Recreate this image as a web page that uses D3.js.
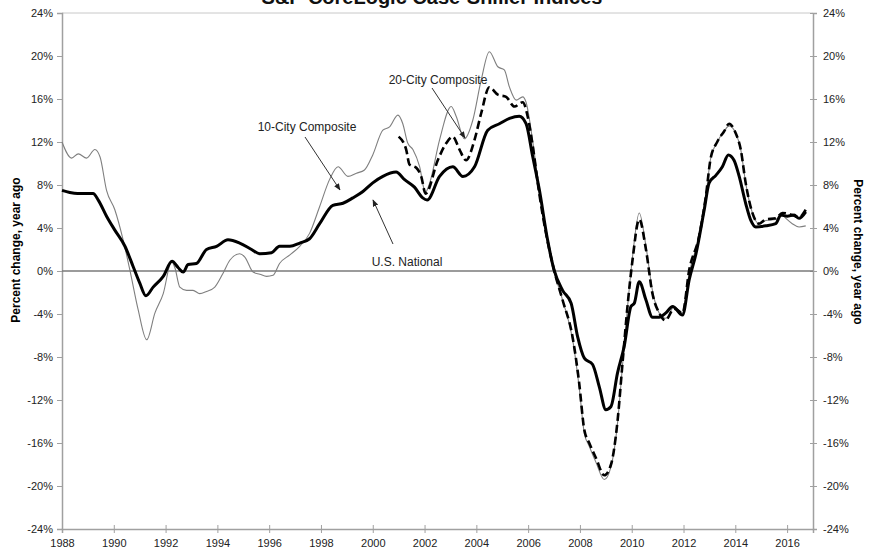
<!DOCTYPE html>
<html>
<head>
<meta charset="utf-8">
<script src="https://cdn.jsdelivr.net/npm/d3@7"></script>
<style>
  body { margin: 0; background: #fff; }
  svg { display: block; font-family: "Liberation Sans", Arial, sans-serif; }
  .axis text { font-size: 11px; fill: #222; }
  .axis path, .axis line { stroke: #a0a0a0; }
</style>
</head>
<body>
<div id="chart"></div>
<script>
// Year-over-year % change (decimal years)
const nationalYears = [1988.0,1988.3,1988.6,1988.9,1989.2,1989.4,1989.72,1990.04,1990.43,1990.75,1991.0,1991.24,1991.52,1991.91,1992.25,1992.49,1992.68,1992.87,1993.19,1993.58,1993.97,1994.41,1994.86,1995.32,1995.64,1996.09,1996.4,1996.8,1997.18,1997.56,1997.95,1998.46,1998.85,1999.23,1999.62,2000.0,2000.39,2000.9,2001.23,2001.61,2001.93,2002.1,2002.58,2003.09,2003.48,2003.93,2004.44,2004.89,2005.28,2005.66,2005.92,2006.18,2006.43,2006.75,2007.0,2007.33,2007.66,2007.91,2008.17,2008.49,2008.75,2009.0,2009.2,2009.45,2009.71,2009.97,2010.1,2010.29,2010.55,2010.8,2011.06,2011.32,2011.58,2011.96,2012.22,2012.48,2012.8,2012.99,2013.25,2013.5,2013.73,2013.95,2014.15,2014.4,2014.6,2014.79,2015.18,2015.56,2015.76,2016.0,2016.27,2016.46,2016.72];
const nationalValues = [7.5,7.3,7.2,7.2,7.2,6.6,5.1,3.8,2.3,0.4,-1.1,-2.3,-1.5,-0.5,0.9,0.3,-0.1,0.6,0.7,2.0,2.3,2.9,2.6,2.0,1.6,1.7,2.3,2.3,2.6,3.0,4.4,6.1,6.3,6.8,7.4,8.2,8.8,9.2,8.5,7.8,6.8,6.6,8.8,9.7,8.8,9.7,13.1,13.7,14.2,14.4,13.7,10.6,7.6,2.9,0.1,-1.8,-3.0,-6.1,-8.1,-8.7,-10.8,-12.9,-12.6,-9.5,-7.0,-3.3,-3.0,-1.0,-2.7,-4.3,-4.3,-3.9,-3.3,-4.1,-0.8,1.6,5.7,8.2,8.9,9.7,10.8,10.3,8.8,6.3,4.7,4.1,4.2,4.4,5.2,5.1,5.2,4.9,5.5];

const city10Years = [1988.0,1988.37,1988.63,1988.95,1989.27,1989.47,1989.72,1990.04,1990.36,1990.62,1990.94,1991.27,1991.59,1991.91,1992.23,1992.36,1992.55,1992.81,1993.06,1993.32,1993.58,1993.9,1994.22,1994.48,1994.86,1995.06,1995.38,1995.64,1995.9,1996.15,1996.4,1996.8,1997.18,1997.56,1997.95,1998.33,1998.66,1999.04,1999.37,1999.68,2000.0,2000.39,2000.65,2000.97,2001.16,2001.35,2001.55,2001.81,2002.03,2002.2,2002.58,2003.03,2003.22,2003.54,2003.86,2004.19,2004.5,2004.83,2005.08,2005.28,2005.54,2005.79,2005.92,2006.18,2006.43,2006.69,2006.95,2007.33,2007.72,2007.97,2008.17,2008.36,2008.62,2008.94,2009.2,2009.45,2009.64,2009.84,2010.03,2010.29,2010.55,2010.8,2011.06,2011.32,2011.64,2011.96,2012.22,2012.6,2012.86,2013.05,2013.3,2013.57,2013.76,2014.02,2014.21,2014.4,2014.66,2014.91,2015.18,2015.56,2015.82,2015.95,2016.2,2016.46,2016.72];
const city10Values = [12.0,10.5,10.9,10.5,11.3,10.6,7.5,5.7,2.9,0.1,-3.6,-6.4,-3.9,-2.1,0.9,0.3,-1.5,-1.8,-1.8,-2.1,-1.9,-1.5,-0.2,1.0,1.6,1.3,-0.1,-0.3,-0.5,-0.4,0.7,1.5,2.3,3.5,6.0,8.5,9.7,8.8,9.1,9.4,10.8,13.1,13.4,14.5,13.7,11.9,11.3,9.7,7.3,8.2,12.2,15.3,14.4,12.3,14.0,17.8,20.4,19.0,18.7,17.1,15.9,16.2,15.7,12.0,7.5,3.5,0.4,-2.7,-6.4,-10.8,-15.1,-16.3,-17.8,-19.4,-18.2,-14.2,-8.9,-3.3,1.3,5.4,2.3,-1.8,-3.9,-4.4,-3.3,-3.9,-0.2,3.2,6.9,10.5,12.0,13.0,13.5,12.8,11.3,8.2,5.4,4.4,4.7,4.8,5.2,4.9,4.4,4.1,4.2];

const city20Years = [2001.0,2001.29,2001.42,2001.68,2001.87,2002.04,2002.51,2002.84,2003.09,2003.35,2003.6,2003.93,2004.19,2004.5,2004.83,2005.15,2005.47,2005.79,2005.98,2006.18,2006.43,2006.69,2007.0,2007.33,2007.72,2007.97,2008.17,2008.36,2008.62,2008.94,2009.2,2009.45,2009.64,2009.84,2010.03,2010.29,2010.55,2010.8,2011.06,2011.3,2011.64,2011.96,2012.22,2012.6,2012.86,2013.05,2013.3,2013.57,2013.76,2014.02,2014.21,2014.4,2014.66,2014.91,2015.18,2015.56,2015.82,2016.2,2016.46,2016.72];
const city20Values = [12.5,11.3,9.9,9.6,8.8,7.2,10.3,11.9,12.5,11.3,10.3,12.2,14.7,17.1,16.4,16.2,15.3,15.7,14.4,11.6,7.2,3.5,0.1,-2.7,-6.2,-10.4,-14.8,-16.0,-17.4,-19.0,-18.0,-14.0,-8.7,-3.2,1.0,4.8,2.0,-2.1,-3.9,-4.6,-3.5,-3.9,0.1,3.2,6.9,10.5,12.0,13.0,13.7,12.8,11.3,8.2,5.4,4.4,4.8,4.9,5.4,5.2,5.0,5.7];

const yTicks = [-24,-20,-16,-12,-8,-4,0,4,8,12,16,20,24];
const xTicks = [1988,1990,1992,1994,1996,1998,2000,2002,2004,2006,2008,2010,2012,2014,2016];

const width = 869, height = 554;
const margin = { top: 13, right: 56, bottom: 25, left: 62 };

const svg = d3.select('#chart').append('svg')
  .attr('width', width)
  .attr('height', height);

const x = d3.scaleLinear().domain([1988, 2017]).range([margin.left, width - margin.right]);
const y = d3.scaleLinear().domain([-24, 24]).range([height - margin.bottom, margin.top]);

// arrowhead marker for the callouts
svg.append('defs').append('marker')
  .attr('id', 'arrow')
  .attr('viewBox', '0 0 10 10')
  .attr('refX', 9).attr('refY', 5)
  .attr('markerWidth', 7).attr('markerHeight', 7)
  .attr('orient', 'auto')
  .append('path')
  .attr('d', 'M0,1 L10,5 L0,9 Z')
  .attr('fill', '#222');

// title, cut off by the top edge as in the original
svg.append('text')
  .attr('x', 432).attr('y', 4)
  .attr('text-anchor', 'middle')
  .attr('font-size', 20).attr('font-weight', 'bold')
  .attr('fill', '#111')
  .text('S&P CoreLogic Case-Shiller Indices');

// plot frame (top edge)
svg.append('line')
  .attr('x1', x(1988)).attr('x2', x(2017))
  .attr('y1', y(24)).attr('y2', y(24))
  .attr('stroke', '#c8c8c8');

// axes
const fmt = d => d + '%';
svg.append('g').attr('class', 'axis')
  .attr('transform', `translate(${margin.left},0)`)
  .call(d3.axisLeft(y).tickValues(yTicks).tickFormat(fmt).tickSize(5).tickPadding(4));

const right = svg.append('g').attr('class', 'axis')
  .attr('transform', `translate(${width - margin.right},0)`)
  .call(d3.axisRight(y).tickValues(yTicks).tickFormat(fmt).tickSize(4).tickPadding(6));
right.selectAll('.tick line').attr('x1', -3);

const bottom = svg.append('g').attr('class', 'axis')
  .attr('transform', `translate(0,${height - margin.bottom})`)
  .call(d3.axisBottom(x).tickValues(xTicks).tickFormat(d3.format('d')).tickSize(4).tickPadding(6));
bottom.selectAll('.tick line').attr('y1', -4);
svg.selectAll('.axis path').attr('stroke-width', 1.5);

// zero line
svg.append('line')
  .attr('x1', x(1988)).attr('x2', x(2017))
  .attr('y1', y(0)).attr('y2', y(0))
  .attr('stroke', '#7a7a7a').attr('stroke-width', 1.5);

// axis titles
svg.append('text')
  .attr('transform', `translate(20,250) rotate(-90)`)
  .attr('text-anchor', 'middle')
  .attr('font-size', 12).attr('font-weight', 'bold')
  .text('Percent change, year ago');
svg.append('text')
  .attr('transform', `translate(854,252) rotate(90)`)
  .attr('text-anchor', 'middle')
  .attr('font-size', 12).attr('font-weight', 'bold')
  .text('Percent change, year ago');

// lines
const line = d3.line()
  .x(d => x(d[0]))
  .y(d => y(d[1]))
  .curve(d3.curveMonotoneX);

const zipSeries = (xs, vs) => xs.map((t, i) => [t, vs[i]]);

svg.append('path')
  .datum(zipSeries(city10Years, city10Values))
  .attr('d', line)
  .attr('fill', 'none')
  .attr('stroke', '#7f7f7f')
  .attr('stroke-width', 1.1);

svg.append('path')
  .datum(zipSeries(nationalYears, nationalValues))
  .attr('d', line)
  .attr('fill', 'none')
  .attr('stroke', '#000')
  .attr('stroke-width', 3)
  .attr('stroke-linejoin', 'round');

svg.append('path')
  .datum(zipSeries(city20Years, city20Values))
  .attr('d', line)
  .attr('fill', 'none')
  .attr('stroke', '#000')
  .attr('stroke-width', 2.6)
  .attr('stroke-dasharray', '8,4');

// callouts
const callouts = [
  { text: '10-City Composite', tx: 307, ty: 131, from: [305, 137], to: [340, 190] },
  { text: '20-City Composite', tx: 438, ty: 84, from: [432, 88], to: [465, 138] },
  { text: 'U.S. National', tx: 407, ty: 266, from: [393, 244], to: [373, 200] }
];
callouts.forEach(c => {
  svg.append('text')
    .attr('x', c.tx).attr('y', c.ty)
    .attr('text-anchor', 'middle')
    .attr('font-size', 12)
    .attr('fill', '#222')
    .text(c.text);
  svg.append('line')
    .attr('x1', c.from[0]).attr('y1', c.from[1])
    .attr('x2', c.to[0]).attr('y2', c.to[1])
    .attr('stroke', '#333').attr('stroke-width', 1)
    .attr('marker-end', 'url(#arrow)');
});
</script>
</body>
</html>
